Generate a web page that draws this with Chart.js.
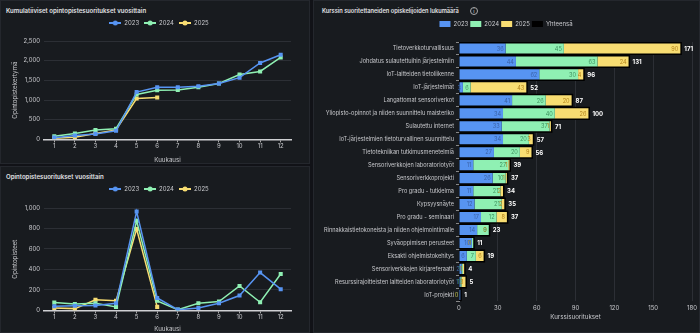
<!DOCTYPE html>
<html>
<head>
<meta charset="utf-8">
<script src="https://cdn.jsdelivr.net/npm/chart.js"></script>
<style>
body { margin: 0; background: #111217; width: 700px; height: 333px; overflow: hidden; font-family: Inter, sans-serif; }
.panel { position: absolute; background: #181b1f; border: 1px solid #24272d; box-sizing: border-box; }
.title { position: absolute; left: 5px; top: 6px; color: #e2e3e6; font-weight: 600; font-size: 6.1px; white-space: nowrap; }
.info { display: inline-block; width: 6px; height: 6px; border: 1px solid #aaa; border-radius: 50%; font-size: 5px; line-height: 6px; text-align: center; color: #aaa; margin-left: 11px; vertical-align: middle; }
canvas { position: absolute; left: 0; }
</style>
</head>
<body>
<div class="panel" style="left:0;top:0;width:310px;height:164px">
  <div class="title">Kumulatiiviset opintopistesuoritukset vuosittain</div>
  <canvas id="cumChart" style="top:14px" width="309" height="149"></canvas>
</div>
<div class="panel" style="left:0;top:166px;width:310px;height:167px">
  <div class="title">Opintopistesuoritukset vuosittain</div>
  <canvas id="monthChart" style="top:14px" width="309" height="152"></canvas>
</div>
<div class="panel" style="left:313px;top:0;width:387px;height:333px">
  <div class="title" style="left:8px;font-size:5.7px">Kurssin suoritettaneiden opiskelijoiden lukumäärä<span class="info">i</span></div>
  <canvas id="courseChart" style="top:14px" width="386" height="318"></canvas>
</div>

<script>
// --- data ---
var months = ['1', '2', '3', '4', '5', '6', '7', '8', '9', '10', '11', '12'];

var cum2023 = [44, 96, 139, 218, 1202, 1324, 1324, 1350, 1420, 1568, 1942, 2152];
var cum2024 = [78, 148, 235, 270, 1141, 1246, 1254, 1324, 1420, 1646, 1725, 2082];
var cum2025 = [26, 52, 150, 240, 1037, 1063];

var month2023 = [41, 45, 48, 69, 965, 121, 7, 24, 69, 145, 369, 207];
var month2024 = [76, 62, 69, 34, 875, 93, 7, 69, 86, 238, 79, 355];
var month2025 = [24, 17, 103, 93, 795, 34];

var courses = [
    'Tietoverkkoturvallisuus',
    'Johdatus sulautettuihin järjestelmiin',
    'IoT-laitteiden tietoliikenne',
    'IoT-järjestelmät',
    'Langattomat sensoriverkot',
    'Yliopisto-opinnot ja niiden suunnittelu maisteriko',
    'Sulautettu internet',
    'IoT-järjestelmien tietoturvallinen suunnittelu',
    'Tietotekniikan tutkimusmenetelmiä',
    'Sensoriverkkojen laboratoriotyöt',
    'Sensoriverkkoprojekti',
    'Pro gradu - tutkielma',
    'Kypsyysnäyte',
    'Pro gradu - seminaari',
    'Rinnakkaistietokoneista ja niiden ohjelmointimalle',
    'Syväoppimisen perusteet',
    'Eksakti ohjelmistokehitys',
    'Sensoriverkkojen kirjareferaatti',
    'Resurssirajoitteisten laitteiden laboratoriotyöt',
    'IoT-projekti'
];
var count2023 = [36, 44, 62, 3, 41, 34, 33, 34, 27, 11, 26, 11, 12, 17, 14, 10, 6, 2, 1, 1];
var count2024 = [45, 63, 30, 6, 26, 40, 37, 20, 20, 27, 10, 21, 21, 12, 9, 1, 7, 1, 1, 0];
var count2025 = [90, 24, 4, 43, 20, 26, 1, 3, 9, 1, 1, 2, 2, 8, 0, 0, 6, 1, 3, 0];
var countTotal = [171, 131, 96, 52, 87, 100, 71, 57, 56, 39, 37, 34, 35, 37, 23, 11, 19, 4, 5, 1];

var blue = '#5794f2', green = '#8ff0b3', yellow = '#f8dd72';

Chart.defaults.font.family = 'Inter';
Chart.defaults.font.size = 6;
Chart.defaults.color = '#c7c8cc';
Chart.defaults.animation = false;

// extra space under the legend, and a horizontal nudge of the legend
function legendTweak(extra, dx) {
    return {
        id: 'legendTweak',
        beforeInit: function (chart) {
            var fit = chart.legend.fit;
            chart.legend.fit = function () {
                fit.call(this);
                this.height += extra;
            };
        },
        afterLayout: function (chart) {
            chart.legend.left += dx;
            chart.legend.right += dx;
        }
    };
}

function legendIcon(color) {
    var c = document.createElement('canvas');
    c.width = 12; c.height = 6;
    var g = c.getContext('2d');
    g.strokeStyle = color; g.lineWidth = 2;
    g.beginPath(); g.moveTo(0, 3); g.lineTo(12, 3); g.stroke();
    g.fillStyle = color;
    g.beginPath(); g.arc(6, 3, 2.5, 0, Math.PI * 2); g.fill();
    return c;
}

function lineDataset(label, data, color) {
    return {
        label: label, data: data, borderColor: color, backgroundColor: color,
        borderWidth: 1.5, pointRadius: 1.8, pointStyle: 'rect', tension: 0
    };
}

function lineConfig(datasets, max, step, yTitle, extra, titlePad) {
    return {
        type: 'line',
        data: { labels: months, datasets: datasets },
        options: {
            responsive: false,
            layout: { padding: { left: 6, right: 19, top: 0, bottom: 0 } },
            plugins: {
                legend: {
                    labels: {
                        usePointStyle: true, pointStyleWidth: 12, boxHeight: 6, padding: 5,
                        font: { size: 6 }, color: '#c7c8cc',
                        generateLabels: function (chart) {
                            return chart.data.datasets.map(function (ds, i) {
                                return { text: ds.label, pointStyle: legendIcon(ds.borderColor), fillStyle: ds.borderColor,
                                    strokeStyle: ds.borderColor, lineWidth: 0, fontColor: '#c7c8cc', datasetIndex: i };
                            });
                        }
                    }
                },
                tooltip: { enabled: false }
            },
            scales: {
                x: {
                    offset: true,
                    grid: { display: true, drawOnChartArea: false, color: '#aaa', tickLength: 3 },
                    border: { color: '#cfd0d3', width: 1.5 },
                    ticks: { padding: 0 },
                    title: { display: true, text: 'Kuukausi', font: { size: 6.2 }, padding: { top: titlePad, bottom: 0 } }
                },
                y: {
                    min: 0, max: max,
                    afterFit: function (scale) { scale.width = 37; },
                    ticks: { stepSize: step, padding: 4 },
                    grid: { color: '#2c2f35', drawTicks: false },
                    border: { display: false },
                    title: { display: true, text: yTitle, font: { size: 6.2 } }
                }
            }
        },
        plugins: [legendTweak(extra, 10)]
    };
}

new Chart(document.getElementById('cumChart'), lineConfig([
    lineDataset('2023', cum2023, blue),
    lineDataset('2024', cum2024, green),
    lineDataset('2025', cum2025, yellow)
], 2500, 500, 'Opintopistekertymä', 5, 7));

new Chart(document.getElementById('monthChart'), lineConfig([
    lineDataset('2023', month2023, blue),
    lineDataset('2024', month2024, green),
    lineDataset('2025', month2025, yellow)
], 1000, 200, 'Opintopisteet', 6, 5));

// value labels inside the segments and totals after the bars
var barLabels = {
    id: 'barLabels',
    afterDatasetsDraw: function (chart) {
        var ctx = chart.ctx;
        ctx.save();
        ctx.textBaseline = 'middle';
        chart.data.datasets.forEach(function (ds, i) {
            var meta = chart.getDatasetMeta(i);
            meta.data.forEach(function (bar, j) {
                var v = ds.data[j];
                if (ds.label === 'Yhteensä') {
                    ctx.font = 'bold 6px Inter';
                    ctx.fillStyle = '#ffffff';
                    ctx.textAlign = 'left';
                    ctx.fillText(v, bar.x + 4, bar.y + 0.5);
                } else {
                    ctx.font = '5.6px Inter';
                    ctx.fillStyle = ds.labelColor;
                    ctx.textAlign = 'right';
                    ctx.fillText(v, bar.x - 2, bar.y + 0.5);
                }
            });
        });
        ctx.restore();
    }
};

new Chart(document.getElementById('courseChart'), {
    type: 'bar',
    data: {
        labels: courses,
        datasets: [
            { label: '2023', data: count2023, backgroundColor: blue, labelColor: '#3b63a8', stack: 'y', order: 1 },
            { label: '2024', data: count2024, backgroundColor: green, labelColor: '#3f9460', stack: 'y', order: 1 },
            { label: '2025', data: count2025, backgroundColor: yellow, labelColor: '#b4841c', stack: 'y', order: 1 },
            { label: 'Yhteensä', data: countTotal, backgroundColor: '#000000', stack: 'total', order: 2,
              inflateAmount: 1.5 }
        ]
    },
    options: {
        responsive: false,
        indexAxis: 'y',
        datasets: { bar: { grouped: false, categoryPercentage: 0.9, barPercentage: 0.87 } },
        layout: { padding: { left: 0, right: 8, top: 4, bottom: 12 } },
        plugins: {
            legend: {
                labels: { boxWidth: 11, boxHeight: 6, padding: 2, font: { size: 6 }, color: '#c7c8cc' }
            },
            tooltip: { enabled: false }
        },
        scales: {
            x: {
                stacked: true, min: 0, max: 180,
                ticks: { stepSize: 30, padding: 3 },
                grid: { color: '#2c2f35', drawTicks: false },
                border: { display: false },
                title: { display: true, text: 'Kurssisuoritukset', font: { size: 6.2 }, padding: { top: -1, bottom: 0 } }
            },
            y: {
                stacked: true,
                afterFit: function (scale) { scale.width = 145; },
                ticks: { autoSkip: false, padding: 2, color: '#c7c8cc', font: { size: 5.6 } },
                grid: { drawOnChartArea: false, color: '#888', tickLength: 3 },
                border: { color: '#9a9ba0' }
            }
        }
    },
    plugins: [barLabels, legendTweak(5, 3)]
});
</script>
</body>
</html>
